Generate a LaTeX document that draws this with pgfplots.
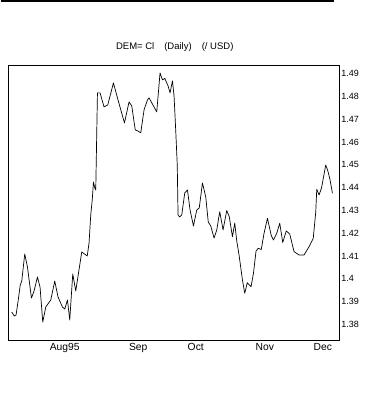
\documentclass[border=0pt]{standalone}
\usepackage{pgfplots}
\pgfplotsset{compat=1.18}
\usepackage{fontspec}
\setmainfont{Liberation Sans}
\begin{document}
\begin{tikzpicture}[x=1pt,y=1pt]
\begin{axis}[
  at={(0,0)}, anchor=south west,
  scale only axis, width=331pt, height=275pt,
  xmin=7.3, xmax=338.3, ymin=1.3731, ymax=1.4939,
  axis line style={line width=0.9pt},
  ytick={1.38,1.39,1.40,1.41,1.42,1.43,1.44,1.45,1.46,1.47,1.48,1.49},
  yticklabels={1.38,1.39,1.4,1.41,1.42,1.43,1.44,1.45,1.46,1.47,1.48,1.49},
  yticklabel pos=right,
  xtick={64,137.5,195,264,322},
  xticklabels={Aug95,Sep,Oct,Nov,Dec},
  major tick length=0pt,
  yticklabel style={font=\fontsize{9}{10}\selectfont, anchor=west, inner sep=1pt, xshift=1pt},
  xticklabel style={font=\fontsize{10.3}{12}\selectfont, anchor=north, inner sep=1pt, yshift=-2pt},
  /pgf/number format/assume math mode=true,
]
\addplot[black, line width=0.7pt, line join=round, mark=none] coordinates {
(11,1.38538) (13.5,1.38363) (15.3,1.38407) (17.5,1.39066) (19.5,1.39725) (21,1.39901)
(24,1.41088) (26.7,1.40516) (30.7,1.39154) (33.3,1.39462) (36.7,1.40077) (39.3,1.39637)
(42,1.38099) (45,1.38758) (50,1.39066) (54,1.39901) (57.3,1.39198) (61.7,1.38758)
(64,1.38670) (66.7,1.39066) (69,1.38187) (72,1.40209) (75,1.39462) (81,1.41176)
(86.5,1.41000) (88.3,1.41571) (90,1.42802) (91.5,1.43462) (92.7,1.44253) (94,1.43989)
(95,1.43901) (96.7,1.48165) (99.3,1.48165) (103.3,1.47549) (107,1.47637) (112.7,1.48604)
(116.7,1.47945) (123.7,1.46846) (128.3,1.47769) (131,1.47593) (134.5,1.46538) (137,1.46495)
(140,1.46407) (143.3,1.47418) (146.7,1.47857) (148.3,1.47945) (156,1.47330) (159.3,1.49044)
(161.7,1.48736) (164,1.48802) (167.3,1.48473) (169.3,1.48165) (171.7,1.48692) (173.3,1.48033)
(175,1.46495) (176.5,1.45000) (177.3,1.42802) (179,1.42714) (181,1.42802) (184,1.43769)
(186.7,1.43901) (189.3,1.43022) (192.7,1.42319) (196,1.43022) (198.5,1.43110) (201.7,1.44209)
(205,1.43593) (207.5,1.42495) (210,1.42319) (213.3,1.41791) (216,1.42143) (219,1.42947)
(222.3,1.42143) (226,1.43000) (228.5,1.42727) (231.7,1.41848) (234,1.42451) (236,1.41659)
(238.3,1.41044) (241.7,1.39945) (244,1.39360) (246.5,1.39826) (250.3,1.39651) (252.7,1.40240)
(255.3,1.41220) (257.5,1.41338) (260.5,1.41286) (263.3,1.41998) (266.7,1.42657) (270.5,1.41901)
(272.7,1.41703) (276,1.41998) (279,1.42437) (282,1.41593) (285.5,1.42099) (289,1.41967)
(293.3,1.41189) (298.3,1.41044) (303.3,1.41044) (308.3,1.41409) (312.5,1.41778) (315,1.42934)
(316,1.43932) (318.3,1.43681) (320.7,1.43976) (325,1.45000) (327.3,1.44705) (329.3,1.44341)
(331.7,1.43756)
};
\end{axis}
\path (-7.3,-75) rectangle (357.7,340);
\draw[line width=1.5pt] (-7.3,339) -- (325.7,339);
\node[font=\fontsize{9.5}{11}\selectfont] at (166.7,293) {DEM= Cl\hspace{10pt}(Daily)\hspace{10pt}(/ USD)};
\end{tikzpicture}
\end{document}
